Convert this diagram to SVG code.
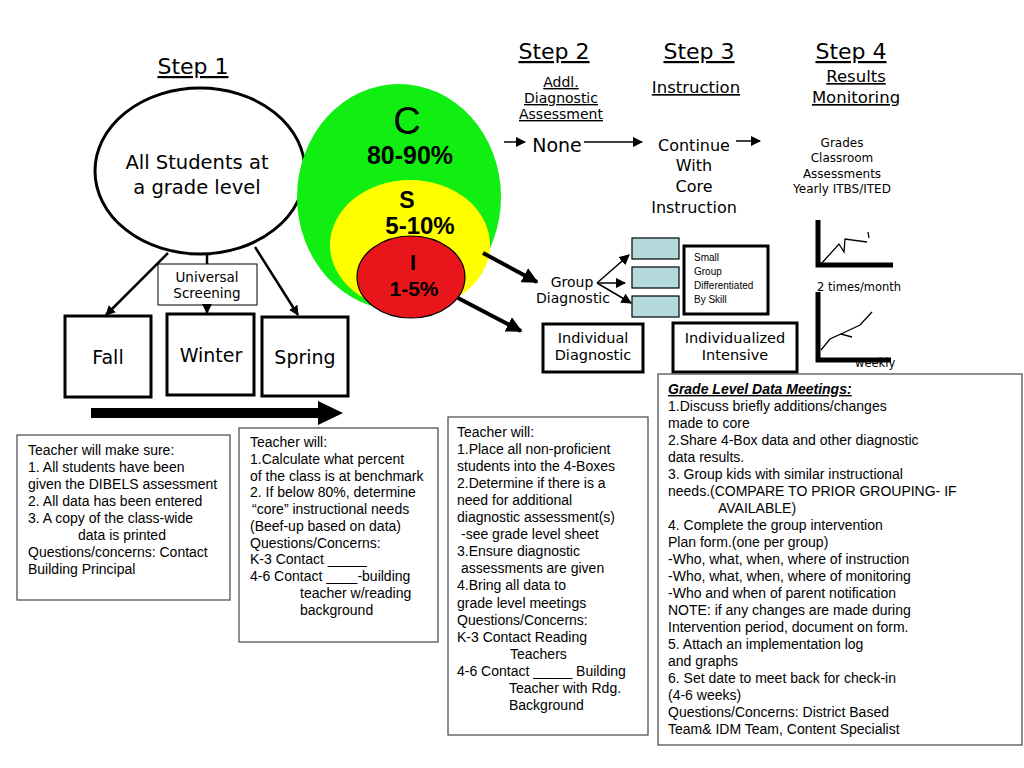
<svg xmlns="http://www.w3.org/2000/svg" width="1024" height="768" viewBox="0 0 1024 768">
<style>
.v{font-family:"DejaVu Sans",Verdana,sans-serif;fill:#000}
.a{font-family:"Liberation Sans",Arial,sans-serif;fill:#000}
.u{text-decoration:underline}
.m{text-anchor:middle}
.box{fill:#fff;stroke:#000;stroke-width:3}
.note{fill:#fff;stroke:#444;stroke-width:1.2}
.blue{fill:#b4dadd;stroke:#000;stroke-width:1.2}
.ln{stroke:#000;fill:none}
.t14{font-size:14px}
</style>
<defs>
<marker id="ah" viewBox="0 0 10 10" refX="9" refY="5" markerWidth="4" markerHeight="4" orient="auto" markerUnits="strokeWidth"><path d="M0,0 L10,5 L0,10 z" fill="#000"/></marker>
<marker id="ahs" viewBox="0 0 10 10" refX="9" refY="5" markerWidth="7" markerHeight="7" orient="auto" markerUnits="strokeWidth"><path d="M0,0 L10,5 L0,10 z" fill="#000"/></marker>
</defs>
<rect width="1024" height="768" fill="#fff"/>

<!-- Headings -->
<g id="headings">
<text class="v u m" x="193" y="74" font-size="22">Step 1</text>
<text class="v u m" x="554" y="59" font-size="22">Step 2</text>
<text class="v u m" x="699" y="59" font-size="22">Step 3</text>
<text class="v u m" x="851" y="59" font-size="22">Step 4</text>
<text class="v u m" x="561" y="87" font-size="14">Addl.</text>
<text class="v u m" x="561" y="103" font-size="14">Diagnostic</text>
<text class="v u m" x="561" y="119" font-size="14">Assessment</text>
<text class="v u m" x="696" y="93" font-size="16.5">Instruction</text>
<text class="v u m" x="856" y="82" font-size="16.5">Results</text>
<text class="v u m" x="856" y="103" font-size="16.5">Monitoring</text>
</g>

<!-- Step 1 ellipse -->
<g id="all-students">
<ellipse cx="200" cy="171" rx="105" ry="83" fill="#fff" stroke="#000" stroke-width="3"/>
<text class="v m" x="197" y="169" font-size="19.5">All Students at</text>
<text class="v m" x="197" y="194" font-size="19.5">a grade level</text>
</g>

<!-- CSI circles -->
<g id="csi">
<ellipse cx="399" cy="197" rx="102" ry="113" fill="#11ee11"/>
<ellipse cx="410" cy="245" rx="80" ry="65" fill="#ffff00"/>
<ellipse cx="411" cy="277" rx="54" ry="41" fill="#e8161a" stroke="#000" stroke-width="1.2"/>
<text class="a m" x="407" y="134" font-size="38">C</text>
<text class="a m" x="410" y="164" font-size="25" font-weight="bold">80-90%</text>
<text class="a m" x="407" y="208" font-size="23" font-weight="bold">S</text>
<text class="a m" x="420" y="234" font-size="24" font-weight="bold">5-10%</text>
<text class="a m" x="413" y="270" font-size="22" font-weight="bold">I</text>
<text class="a m" x="414" y="296" font-size="21" font-weight="bold">1-5%</text>
</g>

<g id="universal-screening">
<rect x="158" y="264" width="99" height="41" fill="#fff" stroke="#000" stroke-width="1"/>
<text class="v m" x="207" y="282" font-size="13.5">Universal</text>
<text class="v m" x="207" y="298" font-size="13.5">Screening</text>
</g>

<g id="fall"><rect class="box" x="65" y="316" width="86" height="81"/><text class="v m" x="108" y="364" font-size="19">Fall</text></g>
<g id="winter"><rect class="box" x="167" y="314" width="87" height="81"/><text class="v m" x="211" y="362" font-size="19">Winter</text></g>
<g id="spring"><rect class="box" x="262" y="317" width="86" height="79"/><text class="v m" x="305" y="364" font-size="19">Spring</text></g>

<g id="none"><text class="v m" x="557" y="152" font-size="19">None</text></g>
<g id="continue">
<text class="v m" x="694" y="151" font-size="16">Continue</text>
<text class="v m" x="694" y="171" font-size="16">With</text>
<text class="v m" x="694" y="192" font-size="16">Core</text>
<text class="v m" x="694" y="213" font-size="16">Instruction</text>
</g>
<g id="grades">
<text class="v m" x="842" y="147" font-size="12">Grades</text>
<text class="v m" x="842" y="162" font-size="12">Classroom</text>
<text class="v m" x="842" y="178" font-size="12">Assessments</text>
<text class="v m" x="842" y="193" font-size="12">Yearly ITBS/ITED</text>
</g>

<g id="graph-1">
<path class="ln" d="M818,220 V265 H893" stroke-width="5"/>
<polyline class="ln" points="821,264 839,244 844,252 845,239 867,242" stroke-width="1.3"/>
<line class="ln" x1="868" y1="232" x2="869" y2="238" stroke-width="1.3"/>
<text class="v" x="817" y="291" font-size="11.5">2 times/month</text>
</g>
<g id="graph-2">
<path class="ln" d="M818,292 V360 H891" stroke-width="5"/>
<polyline class="ln" points="821,350 830,339 841,334 852,337" stroke-width="1.3"/>
<polyline class="ln" points="841,334 860,325 872,312" stroke-width="1.3"/>
<text class="v" x="855" y="367" font-size="11.5">weekly</text>
</g>

<g id="group-diagnostic">
<text class="v m" x="572" y="287" font-size="14">Group</text>
<text class="v m" x="573" y="303" font-size="14">Diagnostic</text>
</g>
<g id="group-boxes">
<rect class="blue" x="632" y="238" width="47" height="21"/>
<rect class="blue" x="632" y="267" width="47" height="21"/>
<rect class="blue" x="632" y="296" width="47" height="21"/>
</g>
<g id="small-group">
<rect class="box" x="684" y="246" width="84" height="68"/>
<text class="a" x="694" y="261" font-size="10">Small</text>
<text class="a" x="694" y="275" font-size="10">Group</text>
<text class="a" x="694" y="289" font-size="10">Differentiated</text>
<text class="a" x="694" y="303" font-size="10">By Skill</text>
</g>
<g id="individual-diagnostic">
<rect class="box" x="543" y="324" width="100" height="48"/>
<text class="v m" x="593" y="343" font-size="14.5">Individual</text>
<text class="v m" x="593" y="360" font-size="14.5">Diagnostic</text>
</g>
<g id="individualized-intensive">
<rect class="box" x="673" y="323" width="124" height="49"/>
<text class="v m" x="735" y="343" font-size="14.5">Individualized</text>
<text class="v m" x="735" y="360" font-size="14.5">Intensive</text>
</g>

<!-- Connectors -->
<g id="connectors">
<line class="ln" x1="168" y1="253" x2="106" y2="315" stroke-width="2.5" marker-end="url(#ah)"/>
<line class="ln" x1="207" y1="254" x2="207" y2="264" stroke-width="2.5"/>
<line class="ln" x1="207" y1="305" x2="207" y2="313" stroke-width="2.5" marker-end="url(#ah)"/>
<line class="ln" x1="255" y1="247" x2="298" y2="315" stroke-width="2.5" marker-end="url(#ah)"/>
<path d="M91,408 H318 V401 L343,413 L318,425 V418 H91 z" fill="#000"/>
<line class="ln" x1="483" y1="253" x2="537" y2="282" stroke-width="4" marker-end="url(#ah)"/>
<line class="ln" x1="458" y1="298" x2="521" y2="331" stroke-width="4" marker-end="url(#ah)"/>
<line class="ln" x1="504" y1="142" x2="525" y2="142" stroke-width="1.5" marker-end="url(#ahs)"/>
<line class="ln" x1="584" y1="142" x2="642" y2="142" stroke-width="1.5" marker-end="url(#ahs)"/>
<line class="ln" x1="736" y1="141" x2="760" y2="141" stroke-width="1.5" marker-end="url(#ahs)"/>
<line class="ln" x1="597" y1="283" x2="629" y2="255" stroke-width="1.5" marker-end="url(#ahs)"/>
<line class="ln" x1="597" y1="283" x2="625" y2="283" stroke-width="1.5" marker-end="url(#ahs)"/>
<line class="ln" x1="597" y1="283" x2="631" y2="303" stroke-width="1.5" marker-end="url(#ahs)"/>
</g>

<!-- Notes -->
<g id="note-1">
<rect class="note" x="17" y="435" width="213" height="165"/>
<text class="a t14" x="28" y="455">Teacher will make sure:</text>
<text class="a t14" x="28" y="472">1. All students have been</text>
<text class="a t14" x="28" y="489">given the DIBELS assessment</text>
<text class="a t14" x="28" y="506">2. All data has been entered</text>
<text class="a t14" x="28" y="523">3. A copy of the class-wide</text>
<text class="a t14" x="78" y="540">data is printed</text>
<text class="a t14" x="28" y="557">Questions/concerns: Contact</text>
<text class="a t14" x="28" y="574">Building Principal</text>
</g>
<g id="note-2">
<rect class="note" x="239" y="428" width="199" height="214"/>
<text class="a t14" x="250" y="447">Teacher will:</text>
<text class="a t14" x="250" y="464">1.Calculate what percent</text>
<text class="a t14" x="250" y="481">of the class is at benchmark</text>
<text class="a t14" x="250" y="497">2. If below 80%, determine</text>
<text class="a t14" x="252" y="514">“core” instructional needs</text>
<text class="a t14" x="250" y="531">(Beef-up based on data)</text>
<text class="a t14" x="250" y="548">Questions/Concerns:</text>
<text class="a t14" x="250" y="564">K-3 Contact _____</text>
<text class="a t14" x="250" y="581">4-6 Contact ____-building</text>
<text class="a t14" x="300" y="598">teacher w/reading</text>
<text class="a t14" x="300" y="615">background</text>
</g>
<g id="note-3">
<rect class="note" x="448" y="417" width="200" height="318"/>
<text class="a t14" x="457" y="437">Teacher will:</text>
<text class="a t14" x="457" y="454">1.Place all non-proficient</text>
<text class="a t14" x="457" y="471">students into the 4-Boxes</text>
<text class="a t14" x="457" y="488">2.Determine if there is a</text>
<text class="a t14" x="457" y="505">need for additional</text>
<text class="a t14" x="457" y="522">diagnostic assessment(s)</text>
<text class="a t14" x="461" y="539">-see grade level sheet</text>
<text class="a t14" x="457" y="556">3.Ensure diagnostic</text>
<text class="a t14" x="461" y="573">assessments are given</text>
<text class="a t14" x="457" y="590">4.Bring all data to</text>
<text class="a t14" x="457" y="608">grade level meetings</text>
<text class="a t14" x="457" y="625">Questions/Concerns:</text>
<text class="a t14" x="457" y="642">K-3 Contact Reading</text>
<text class="a t14" x="510" y="659">Teachers</text>
<text class="a t14" x="457" y="676">4-6 Contact _____ Building</text>
<text class="a t14" x="509" y="693">Teacher with Rdg.</text>
<text class="a t14" x="509" y="710">Background</text>
</g>
<g id="note-4">
<rect class="note" x="658" y="374" width="364" height="371"/>
<text class="a t14 u" x="668" y="394" font-weight="bold" font-style="italic">Grade Level Data Meetings:</text>
<text class="a t14" x="668" y="411">1.Discuss briefly additions/changes</text>
<text class="a t14" x="668" y="428">made to core</text>
<text class="a t14" x="668" y="445">2.Share 4-Box data and other diagnostic</text>
<text class="a t14" x="668" y="462">data results.</text>
<text class="a t14" x="668" y="479">3. Group kids with similar instructional</text>
<text class="a t14" x="668" y="496">needs.(COMPARE TO PRIOR GROUPING- IF</text>
<text class="a t14" x="718" y="513">AVAILABLE)</text>
<text class="a t14" x="668" y="530">4. Complete the group intervention</text>
<text class="a t14" x="668" y="547">Plan form.(one per group)</text>
<text class="a t14" x="668" y="564">-Who, what, when, where of instruction</text>
<text class="a t14" x="668" y="581">-Who, what, when, where of monitoring</text>
<text class="a t14" x="668" y="598">-Who and when of parent notification</text>
<text class="a t14" x="668" y="615">NOTE: if any changes are made during</text>
<text class="a t14" x="668" y="632">Intervention period, document on form.</text>
<text class="a t14" x="668" y="649">5. Attach an implementation log</text>
<text class="a t14" x="668" y="666">and graphs</text>
<text class="a t14" x="668" y="683">6. Set date to meet back for check-in</text>
<text class="a t14" x="668" y="700">(4-6 weeks)</text>
<text class="a t14" x="668" y="717">Questions/Concerns: District Based</text>
<text class="a t14" x="668" y="734">Team&amp; IDM Team, Content Specialist</text>
</g>
</svg>
